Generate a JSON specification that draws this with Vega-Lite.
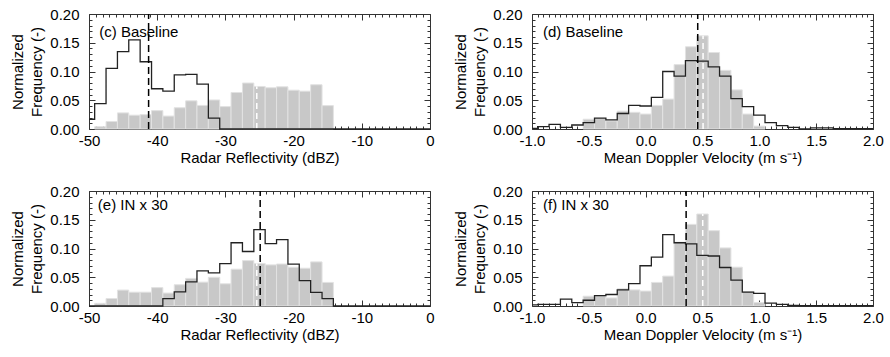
{
  "$schema": "https://vega.github.io/schema/vega-lite/v6.json",
  "padding": {"left": 10, "top": 6, "right": 0, "bottom": 0},
  "background": "white",
  "config": {
    "view": {"stroke": "#333333", "strokeWidth": 1},
    "axis": {"grid": false, "domain": false, "labelFont": "Liberation Sans", "titleFont": "Liberation Sans", "labelFontSize": 15, "titleFontSize": 15, "titleFontWeight": "normal", "labelColor": "#000000", "titleColor": "#000000", "tickColor": "#333333", "labelFlush": false, "labelOverlap": false},
    "text": {"font": "Liberation Sans", "fontSize": 15}
  },
  "datasets": {
    "gC": [
      {"x0": -49.17, "x1": -47.5, "f": 0.004}, {"x0": -47.5, "x1": -45.83, "f": 0.013}, {"x0": -45.83, "x1": -44.17, "f": 0.028},
      {"x0": -44.17, "x1": -42.5, "f": 0.024}, {"x0": -42.5, "x1": -40.83, "f": 0.025}, {"x0": -40.83, "x1": -39.17, "f": 0.032},
      {"x0": -39.17, "x1": -37.5, "f": 0.0225}, {"x0": -37.5, "x1": -35.83, "f": 0.037}, {"x0": -35.83, "x1": -34.17, "f": 0.049},
      {"x0": -34.17, "x1": -32.5, "f": 0.041}, {"x0": -32.5, "x1": -30.83, "f": 0.0505}, {"x0": -30.83, "x1": -29.17, "f": 0.039},
      {"x0": -29.17, "x1": -27.5, "f": 0.0635}, {"x0": -27.5, "x1": -25.83, "f": 0.080}, {"x0": -25.83, "x1": -24.17, "f": 0.074},
      {"x0": -24.17, "x1": -22.5, "f": 0.0717}, {"x0": -22.5, "x1": -20.83, "f": 0.0734}, {"x0": -20.83, "x1": -19.17, "f": 0.0675},
      {"x0": -19.17, "x1": -17.5, "f": 0.0658}, {"x0": -17.5, "x1": -15.83, "f": 0.077}, {"x0": -15.83, "x1": -14.17, "f": 0.0407}
    ],
    "lC": [
      {"x": -50, "f": 0.017}, {"x": -49.17, "f": 0.044}, {"x": -47.5, "f": 0.1056}, {"x": -45.83, "f": 0.1347},
      {"x": -44.17, "f": 0.155}, {"x": -42.5, "f": 0.117}, {"x": -40.83, "f": 0.070}, {"x": -39.17, "f": 0.066},
      {"x": -37.5, "f": 0.094}, {"x": -35.83, "f": 0.095}, {"x": -34.17, "f": 0.078}, {"x": -32.5, "f": 0.019},
      {"x": -30.83, "f": 0}, {"x": 0, "f": 0}
    ],
    "gE": [
      {"x0": -49.17, "x1": -47.5, "f": 0.0046}, {"x0": -47.5, "x1": -45.83, "f": 0.013}, {"x0": -45.83, "x1": -44.17, "f": 0.0277},
      {"x0": -44.17, "x1": -42.5, "f": 0.024}, {"x0": -42.5, "x1": -40.83, "f": 0.024}, {"x0": -40.83, "x1": -39.17, "f": 0.032},
      {"x0": -39.17, "x1": -37.5, "f": 0.0225}, {"x0": -37.5, "x1": -35.83, "f": 0.037}, {"x0": -35.83, "x1": -34.17, "f": 0.048},
      {"x0": -34.17, "x1": -32.5, "f": 0.0415}, {"x0": -32.5, "x1": -30.83, "f": 0.050}, {"x0": -30.83, "x1": -29.17, "f": 0.0386},
      {"x0": -29.17, "x1": -27.5, "f": 0.064}, {"x0": -27.5, "x1": -25.83, "f": 0.079}, {"x0": -25.83, "x1": -24.17, "f": 0.074},
      {"x0": -24.17, "x1": -22.5, "f": 0.0715}, {"x0": -22.5, "x1": -20.83, "f": 0.073}, {"x0": -20.83, "x1": -19.17, "f": 0.0674},
      {"x0": -19.17, "x1": -17.5, "f": 0.0657}, {"x0": -17.5, "x1": -15.83, "f": 0.0767}, {"x0": -15.83, "x1": -14.17, "f": 0.041}
    ],
    "lE": [
      {"x": -50, "f": 0}, {"x": -39.17, "f": 0.0127}, {"x": -37.5, "f": 0.0246}, {"x": -35.83, "f": 0.042},
      {"x": -34.17, "f": 0.061}, {"x": -32.5, "f": 0.0575}, {"x": -30.83, "f": 0.0737}, {"x": -29.17, "f": 0.110},
      {"x": -27.5, "f": 0.0948}, {"x": -25.83, "f": 0.133}, {"x": -24.17, "f": 0.1085}, {"x": -22.5, "f": 0.1156},
      {"x": -20.83, "f": 0.073}, {"x": -19.17, "f": 0.044}, {"x": -17.5, "f": 0.0236}, {"x": -15.83, "f": 0.0127},
      {"x": -14.17, "f": 0}, {"x": 0, "f": 0}
    ],
    "gD": [
      {"x0": -0.55, "x1": -0.45, "f": 0.017}, {"x0": -0.45, "x1": -0.35, "f": 0.018}, {"x0": -0.35, "x1": -0.25, "f": 0.014},
      {"x0": -0.25, "x1": -0.15, "f": 0.031}, {"x0": -0.15, "x1": -0.05, "f": 0.029}, {"x0": -0.05, "x1": 0.05, "f": 0.026},
      {"x0": 0.05, "x1": 0.15, "f": 0.041}, {"x0": 0.15, "x1": 0.25, "f": 0.052}, {"x0": 0.25, "x1": 0.35, "f": 0.112},
      {"x0": 0.35, "x1": 0.45, "f": 0.143}, {"x0": 0.45, "x1": 0.55, "f": 0.162}, {"x0": 0.55, "x1": 0.65, "f": 0.133},
      {"x0": 0.65, "x1": 0.75, "f": 0.102}, {"x0": 0.75, "x1": 0.85, "f": 0.068}, {"x0": 0.85, "x1": 0.95, "f": 0.026},
      {"x0": 0.95, "x1": 1.05, "f": 0.005}
    ],
    "lD": [
      {"x": -1.0, "f": 0.001}, {"x": -0.95, "f": 0.004}, {"x": -0.85, "f": 0.008}, {"x": -0.75, "f": 0.003},
      {"x": -0.65, "f": 0.007}, {"x": -0.55, "f": 0.011}, {"x": -0.45, "f": 0.019}, {"x": -0.35, "f": 0.016},
      {"x": -0.25, "f": 0.027}, {"x": -0.15, "f": 0.041}, {"x": -0.05, "f": 0.040}, {"x": 0.05, "f": 0.055},
      {"x": 0.15, "f": 0.100}, {"x": 0.25, "f": 0.092}, {"x": 0.35, "f": 0.119}, {"x": 0.45, "f": 0.118},
      {"x": 0.55, "f": 0.108}, {"x": 0.65, "f": 0.092}, {"x": 0.75, "f": 0.053}, {"x": 0.85, "f": 0.039},
      {"x": 0.95, "f": 0.024}, {"x": 1.05, "f": 0.011}, {"x": 1.15, "f": 0.006}, {"x": 1.25, "f": 0.003},
      {"x": 1.35, "f": 0.0}, {"x": 1.45, "f": 0.002}, {"x": 1.55, "f": 0.002}, {"x": 1.65, "f": 0.0005},
      {"x": 1.75, "f": 0.0005}, {"x": 1.85, "f": 0.0005}, {"x": 1.95, "f": 0.0005}, {"x": 2.0, "f": 0.0005}
    ],
    "gF": [
      {"x0": -0.55, "x1": -0.45, "f": 0.017}, {"x0": -0.45, "x1": -0.35, "f": 0.018}, {"x0": -0.35, "x1": -0.25, "f": 0.014},
      {"x0": -0.25, "x1": -0.15, "f": 0.030}, {"x0": -0.15, "x1": -0.05, "f": 0.028}, {"x0": -0.05, "x1": 0.05, "f": 0.026},
      {"x0": 0.05, "x1": 0.15, "f": 0.041}, {"x0": 0.15, "x1": 0.25, "f": 0.052}, {"x0": 0.25, "x1": 0.35, "f": 0.111},
      {"x0": 0.35, "x1": 0.45, "f": 0.142}, {"x0": 0.45, "x1": 0.55, "f": 0.160}, {"x0": 0.55, "x1": 0.65, "f": 0.131},
      {"x0": 0.65, "x1": 0.75, "f": 0.101}, {"x0": 0.75, "x1": 0.85, "f": 0.0675}, {"x0": 0.85, "x1": 0.95, "f": 0.025},
      {"x0": 0.95, "x1": 1.05, "f": 0.006}
    ],
    "lF": [
      {"x": -1.0, "f": 0.002}, {"x": -0.95, "f": 0.003}, {"x": -0.85, "f": 0.003}, {"x": -0.75, "f": 0.012},
      {"x": -0.65, "f": 0.006}, {"x": -0.55, "f": 0.010}, {"x": -0.45, "f": 0.018}, {"x": -0.35, "f": 0.020},
      {"x": -0.25, "f": 0.028}, {"x": -0.15, "f": 0.039}, {"x": -0.05, "f": 0.070}, {"x": 0.05, "f": 0.085},
      {"x": 0.15, "f": 0.124}, {"x": 0.25, "f": 0.110}, {"x": 0.35, "f": 0.108}, {"x": 0.45, "f": 0.088},
      {"x": 0.55, "f": 0.087}, {"x": 0.65, "f": 0.067}, {"x": 0.75, "f": 0.045}, {"x": 0.85, "f": 0.024},
      {"x": 0.95, "f": 0.022}, {"x": 1.05, "f": 0.005}, {"x": 1.15, "f": 0.003}, {"x": 1.25, "f": 0.001},
      {"x": 1.35, "f": 0.0005}, {"x": 2.0, "f": 0.0005}
    ],
    "means": [
      {"p": "c", "k": "w", "x": -25.4, "y0": 0, "y1": 0.074}, {"p": "c", "k": "b", "x": -41.26, "y0": 0, "y1": 0.2},
      {"p": "d", "k": "w", "x": 0.505, "y0": 0, "y1": 0.162}, {"p": "d", "k": "b", "x": 0.458, "y0": 0, "y1": 0.2},
      {"p": "e", "k": "w", "x": -25.4, "y0": 0, "y1": 0.074}, {"p": "e", "k": "b", "x": -24.9, "y0": 0, "y1": 0.2},
      {"p": "f", "k": "w", "x": 0.502, "y0": 0, "y1": 0.160}, {"p": "f", "k": "b", "x": 0.356, "y0": 0, "y1": 0.2}
    ],
    "labels": [
      {"p": "c", "x": -48.5, "y": 0.168, "t": "(c) Baseline"},
      {"p": "d", "x": -0.903, "y": 0.168, "t": "(d) Baseline"},
      {"p": "e", "x": -48.7, "y": 0.175, "t": "(e) IN x 30"},
      {"p": "f", "x": -0.903, "y": 0.175, "t": "(f) IN x 30"}
    ]
  },
  "columns": 2,
  "spacing": {"row": 62, "column": 102},
  "bounds": "flush",
  "concat": [
    {
      "width": 341, "height": 115,
      "resolve": {"axis": {"x": "independent", "y": "independent"}},
      "layer": [
        {"data": {"name": "gC"}, "mark": {"type": "rect", "fill": "#c8c8c8", "stroke": "#e2e2e2", "strokeWidth": 1},
         "encoding": {
           "x": {"field": "x0", "type": "quantitative", "scale": {"domain": [-50, 0], "nice": false, "zero": false},
                 "axis": {"orient": "bottom", "values": [-50, -40, -30, -20, -10, 0], "tickSize": -6, "labelPadding": 10, "labelExpr": "datum.value < 0 ? '-' + format(-datum.value, 'd') : format(datum.value, 'd')", "title": "Radar Reflectivity (dBZ)", "titlePadding": 2}},
           "x2": {"field": "x1"},
           "y": {"field": "f", "type": "quantitative", "scale": {"domain": [0, 0.2], "nice": false, "zero": false},
                 "axis": {"orient": "left", "values": [0, 0.05, 0.1, 0.15, 0.2], "format": ".2f", "tickSize": -6, "labelPadding": 16, "title": ["Normalized", "Frequency (-)"], "titlePadding": 5, "titleLineHeight": 19}},
           "y2": {"datum": 0}}},
        {"data": {"name": "means"}, "transform": [{"filter": "datum.p == 'c' && datum.k == 'w'"}],
         "mark": {"type": "rule", "stroke": "#ffffff", "strokeWidth": 1.5, "strokeDash": [6, 4]},
         "encoding": {
           "x": {"field": "x", "type": "quantitative", "scale": {"domain": [-50, 0], "nice": false, "zero": false},
                 "axis": {"orient": "top", "values": [-49,-48,-47,-46,-45,-44,-43,-42,-41,-39,-38,-37,-36,-35,-34,-33,-32,-31,-29,-28,-27,-26,-25,-24,-23,-22,-21,-19,-18,-17,-16,-15,-14,-13,-12,-11,-9,-8,-7,-6,-5,-4,-3,-2,-1], "tickSize": -3, "labels": false, "title": null}},
           "y": {"field": "y0", "type": "quantitative", "scale": {"domain": [0, 0.2], "nice": false, "zero": false},
                 "axis": {"orient": "right", "values": [0.01,0.02,0.03,0.04,0.06,0.07,0.08,0.09,0.11,0.12,0.13,0.14,0.16,0.17,0.18,0.19], "tickSize": -3, "labels": false, "title": null}},
           "y2": {"field": "y1"}}},
        {"data": {"name": "lC"}, "mark": {"type": "line", "interpolate": "step-after", "stroke": "#222222", "strokeWidth": 1.3},
         "encoding": {
           "x": {"field": "x", "type": "quantitative", "scale": {"domain": [-50, 0], "nice": false, "zero": false},
                 "axis": {"orient": "top", "values": [-50, -40, -30, -20, -10, 0], "tickSize": -6, "labels": false, "title": null}},
           "y": {"field": "f", "type": "quantitative", "scale": {"domain": [0, 0.2], "nice": false, "zero": false},
                 "axis": {"orient": "right", "values": [0, 0.05, 0.1, 0.15, 0.2], "tickSize": -6, "labels": false, "title": null}}}},
        {"data": {"name": "means"}, "transform": [{"filter": "datum.p == 'c' && datum.k == 'b'"}],
         "mark": {"type": "rule", "stroke": "#000000", "strokeWidth": 1.5, "strokeDash": [7, 4]},
         "encoding": {
           "x": {"field": "x", "type": "quantitative", "scale": {"domain": [-50, 0], "nice": false, "zero": false},
                 "axis": {"orient": "bottom", "values": [-49,-48,-47,-46,-45,-44,-43,-42,-41,-39,-38,-37,-36,-35,-34,-33,-32,-31,-29,-28,-27,-26,-25,-24,-23,-22,-21,-19,-18,-17,-16,-15,-14,-13,-12,-11,-9,-8,-7,-6,-5,-4,-3,-2,-1], "tickSize": -3, "labels": false, "title": null}},
           "y": {"field": "y0", "type": "quantitative", "scale": {"domain": [0, 0.2], "nice": false, "zero": false},
                 "axis": {"orient": "left", "values": [0.01,0.02,0.03,0.04,0.06,0.07,0.08,0.09,0.11,0.12,0.13,0.14,0.16,0.17,0.18,0.19], "tickSize": -3, "labels": false, "title": null}},
           "y2": {"field": "y1"}}},
        {"data": {"name": "labels"}, "transform": [{"filter": "datum.p == 'c'"}],
         "mark": {"type": "text", "align": "left", "baseline": "middle", "fontSize": 15, "color": "#000000"},
         "encoding": {
           "x": {"field": "x", "type": "quantitative", "scale": {"domain": [-50, 0], "nice": false, "zero": false}, "axis": null},
           "y": {"field": "y", "type": "quantitative", "scale": {"domain": [0, 0.2], "nice": false, "zero": false}, "axis": null},
           "text": {"field": "t"}}}
      ]
    },
    {
      "width": 341, "height": 115,
      "resolve": {"axis": {"x": "independent", "y": "independent"}},
      "layer": [
        {"data": {"name": "gD"}, "mark": {"type": "rect", "fill": "#c8c8c8", "stroke": "#e2e2e2", "strokeWidth": 1},
         "encoding": {
           "x": {"field": "x0", "type": "quantitative", "scale": {"domain": [-1, 2], "nice": false, "zero": false},
                 "axis": {"orient": "bottom", "values": [-1, -0.5, 0, 0.5, 1, 1.5, 2], "tickSize": -6, "labelPadding": 10, "labelExpr": "datum.value < 0 ? '-' + format(-datum.value, '.1f') : format(datum.value, '.1f')", "title": "Mean Doppler Velocity (m s⁻¹)", "titlePadding": 2}},
           "x2": {"field": "x1"},
           "y": {"field": "f", "type": "quantitative", "scale": {"domain": [0, 0.2], "nice": false, "zero": false},
                 "axis": {"orient": "left", "values": [0, 0.05, 0.1, 0.15, 0.2], "format": ".2f", "tickSize": -6, "labelPadding": 16, "title": ["Normalized", "Frequency (-)"], "titlePadding": 5, "titleLineHeight": 19}},
           "y2": {"datum": 0}}},
        {"data": {"name": "means"}, "transform": [{"filter": "datum.p == 'd' && datum.k == 'w'"}],
         "mark": {"type": "rule", "stroke": "#ffffff", "strokeWidth": 1.5, "strokeDash": [6, 4]},
         "encoding": {
           "x": {"field": "x", "type": "quantitative", "scale": {"domain": [-1, 2], "nice": false, "zero": false},
                 "axis": {"orient": "top", "values": [-0.95,-0.9,-0.85,-0.8,-0.75,-0.7,-0.65,-0.6,-0.55,-0.45,-0.4,-0.35,-0.3,-0.25,-0.2,-0.15,-0.1,-0.05,0.05,0.1,0.15,0.2,0.25,0.3,0.35,0.4,0.45,0.55,0.6,0.65,0.7,0.75,0.8,0.85,0.9,0.95,1.05,1.1,1.15,1.2,1.25,1.3,1.35,1.4,1.45,1.55,1.6,1.65,1.7,1.75,1.8,1.85,1.9,1.95], "tickSize": -3, "labels": false, "title": null}},
           "y": {"field": "y0", "type": "quantitative", "scale": {"domain": [0, 0.2], "nice": false, "zero": false},
                 "axis": {"orient": "right", "values": [0.01,0.02,0.03,0.04,0.06,0.07,0.08,0.09,0.11,0.12,0.13,0.14,0.16,0.17,0.18,0.19], "tickSize": -3, "labels": false, "title": null}},
           "y2": {"field": "y1"}}},
        {"data": {"name": "lD"}, "mark": {"type": "line", "interpolate": "step-after", "stroke": "#222222", "strokeWidth": 1.3},
         "encoding": {
           "x": {"field": "x", "type": "quantitative", "scale": {"domain": [-1, 2], "nice": false, "zero": false},
                 "axis": {"orient": "top", "values": [-1, -0.5, 0, 0.5, 1, 1.5, 2], "tickSize": -6, "labels": false, "title": null}},
           "y": {"field": "f", "type": "quantitative", "scale": {"domain": [0, 0.2], "nice": false, "zero": false},
                 "axis": {"orient": "right", "values": [0, 0.05, 0.1, 0.15, 0.2], "tickSize": -6, "labels": false, "title": null}}}},
        {"data": {"name": "means"}, "transform": [{"filter": "datum.p == 'd' && datum.k == 'b'"}],
         "mark": {"type": "rule", "stroke": "#000000", "strokeWidth": 1.5, "strokeDash": [7, 4]},
         "encoding": {
           "x": {"field": "x", "type": "quantitative", "scale": {"domain": [-1, 2], "nice": false, "zero": false},
                 "axis": {"orient": "bottom", "values": [-0.95,-0.9,-0.85,-0.8,-0.75,-0.7,-0.65,-0.6,-0.55,-0.45,-0.4,-0.35,-0.3,-0.25,-0.2,-0.15,-0.1,-0.05,0.05,0.1,0.15,0.2,0.25,0.3,0.35,0.4,0.45,0.55,0.6,0.65,0.7,0.75,0.8,0.85,0.9,0.95,1.05,1.1,1.15,1.2,1.25,1.3,1.35,1.4,1.45,1.55,1.6,1.65,1.7,1.75,1.8,1.85,1.9,1.95], "tickSize": -3, "labels": false, "title": null}},
           "y": {"field": "y0", "type": "quantitative", "scale": {"domain": [0, 0.2], "nice": false, "zero": false},
                 "axis": {"orient": "left", "values": [0.01,0.02,0.03,0.04,0.06,0.07,0.08,0.09,0.11,0.12,0.13,0.14,0.16,0.17,0.18,0.19], "tickSize": -3, "labels": false, "title": null}},
           "y2": {"field": "y1"}}},
        {"data": {"name": "labels"}, "transform": [{"filter": "datum.p == 'd'"}],
         "mark": {"type": "text", "align": "left", "baseline": "middle", "fontSize": 15, "color": "#000000"},
         "encoding": {
           "x": {"field": "x", "type": "quantitative", "scale": {"domain": [-1, 2], "nice": false, "zero": false}, "axis": null},
           "y": {"field": "y", "type": "quantitative", "scale": {"domain": [0, 0.2], "nice": false, "zero": false}, "axis": null},
           "text": {"field": "t"}}}
      ]
    },
    {
      "width": 341, "height": 115,
      "resolve": {"axis": {"x": "independent", "y": "independent"}},
      "layer": [
        {"data": {"name": "gE"}, "mark": {"type": "rect", "fill": "#c8c8c8", "stroke": "#e2e2e2", "strokeWidth": 1},
         "encoding": {
           "x": {"field": "x0", "type": "quantitative", "scale": {"domain": [-50, 0], "nice": false, "zero": false},
                 "axis": {"orient": "bottom", "values": [-50, -40, -30, -20, -10, 0], "tickSize": -6, "labelPadding": 10, "labelExpr": "datum.value < 0 ? '-' + format(-datum.value, 'd') : format(datum.value, 'd')", "title": "Radar Reflectivity (dBZ)", "titlePadding": 2}},
           "x2": {"field": "x1"},
           "y": {"field": "f", "type": "quantitative", "scale": {"domain": [0, 0.2], "nice": false, "zero": false},
                 "axis": {"orient": "left", "values": [0, 0.05, 0.1, 0.15, 0.2], "format": ".2f", "tickSize": -6, "labelPadding": 16, "title": ["Normalized", "Frequency (-)"], "titlePadding": 5, "titleLineHeight": 19}},
           "y2": {"datum": 0}}},
        {"data": {"name": "means"}, "transform": [{"filter": "datum.p == 'e' && datum.k == 'w'"}],
         "mark": {"type": "rule", "stroke": "#ffffff", "strokeWidth": 1.5, "strokeDash": [6, 4]},
         "encoding": {
           "x": {"field": "x", "type": "quantitative", "scale": {"domain": [-50, 0], "nice": false, "zero": false},
                 "axis": {"orient": "top", "values": [-49,-48,-47,-46,-45,-44,-43,-42,-41,-39,-38,-37,-36,-35,-34,-33,-32,-31,-29,-28,-27,-26,-25,-24,-23,-22,-21,-19,-18,-17,-16,-15,-14,-13,-12,-11,-9,-8,-7,-6,-5,-4,-3,-2,-1], "tickSize": -3, "labels": false, "title": null}},
           "y": {"field": "y0", "type": "quantitative", "scale": {"domain": [0, 0.2], "nice": false, "zero": false},
                 "axis": {"orient": "right", "values": [0.01,0.02,0.03,0.04,0.06,0.07,0.08,0.09,0.11,0.12,0.13,0.14,0.16,0.17,0.18,0.19], "tickSize": -3, "labels": false, "title": null}},
           "y2": {"field": "y1"}}},
        {"data": {"name": "lE"}, "mark": {"type": "line", "interpolate": "step-after", "stroke": "#222222", "strokeWidth": 1.3},
         "encoding": {
           "x": {"field": "x", "type": "quantitative", "scale": {"domain": [-50, 0], "nice": false, "zero": false},
                 "axis": {"orient": "top", "values": [-50, -40, -30, -20, -10, 0], "tickSize": -6, "labels": false, "title": null}},
           "y": {"field": "f", "type": "quantitative", "scale": {"domain": [0, 0.2], "nice": false, "zero": false},
                 "axis": {"orient": "right", "values": [0, 0.05, 0.1, 0.15, 0.2], "tickSize": -6, "labels": false, "title": null}}}},
        {"data": {"name": "means"}, "transform": [{"filter": "datum.p == 'e' && datum.k == 'b'"}],
         "mark": {"type": "rule", "stroke": "#000000", "strokeWidth": 1.5, "strokeDash": [7, 4]},
         "encoding": {
           "x": {"field": "x", "type": "quantitative", "scale": {"domain": [-50, 0], "nice": false, "zero": false},
                 "axis": {"orient": "bottom", "values": [-49,-48,-47,-46,-45,-44,-43,-42,-41,-39,-38,-37,-36,-35,-34,-33,-32,-31,-29,-28,-27,-26,-25,-24,-23,-22,-21,-19,-18,-17,-16,-15,-14,-13,-12,-11,-9,-8,-7,-6,-5,-4,-3,-2,-1], "tickSize": -3, "labels": false, "title": null}},
           "y": {"field": "y0", "type": "quantitative", "scale": {"domain": [0, 0.2], "nice": false, "zero": false},
                 "axis": {"orient": "left", "values": [0.01,0.02,0.03,0.04,0.06,0.07,0.08,0.09,0.11,0.12,0.13,0.14,0.16,0.17,0.18,0.19], "tickSize": -3, "labels": false, "title": null}},
           "y2": {"field": "y1"}}},
        {"data": {"name": "labels"}, "transform": [{"filter": "datum.p == 'e'"}],
         "mark": {"type": "text", "align": "left", "baseline": "middle", "fontSize": 15, "color": "#000000"},
         "encoding": {
           "x": {"field": "x", "type": "quantitative", "scale": {"domain": [-50, 0], "nice": false, "zero": false}, "axis": null},
           "y": {"field": "y", "type": "quantitative", "scale": {"domain": [0, 0.2], "nice": false, "zero": false}, "axis": null},
           "text": {"field": "t"}}}
      ]
    },
    {
      "width": 341, "height": 115,
      "resolve": {"axis": {"x": "independent", "y": "independent"}},
      "layer": [
        {"data": {"name": "gF"}, "mark": {"type": "rect", "fill": "#c8c8c8", "stroke": "#e2e2e2", "strokeWidth": 1},
         "encoding": {
           "x": {"field": "x0", "type": "quantitative", "scale": {"domain": [-1, 2], "nice": false, "zero": false},
                 "axis": {"orient": "bottom", "values": [-1, -0.5, 0, 0.5, 1, 1.5, 2], "tickSize": -6, "labelPadding": 10, "labelExpr": "datum.value < 0 ? '-' + format(-datum.value, '.1f') : format(datum.value, '.1f')", "title": "Mean Doppler Velocity (m s⁻¹)", "titlePadding": 2}},
           "x2": {"field": "x1"},
           "y": {"field": "f", "type": "quantitative", "scale": {"domain": [0, 0.2], "nice": false, "zero": false},
                 "axis": {"orient": "left", "values": [0, 0.05, 0.1, 0.15, 0.2], "format": ".2f", "tickSize": -6, "labelPadding": 16, "title": ["Normalized", "Frequency (-)"], "titlePadding": 5, "titleLineHeight": 19}},
           "y2": {"datum": 0}}},
        {"data": {"name": "means"}, "transform": [{"filter": "datum.p == 'f' && datum.k == 'w'"}],
         "mark": {"type": "rule", "stroke": "#ffffff", "strokeWidth": 1.5, "strokeDash": [6, 4]},
         "encoding": {
           "x": {"field": "x", "type": "quantitative", "scale": {"domain": [-1, 2], "nice": false, "zero": false},
                 "axis": {"orient": "top", "values": [-0.95,-0.9,-0.85,-0.8,-0.75,-0.7,-0.65,-0.6,-0.55,-0.45,-0.4,-0.35,-0.3,-0.25,-0.2,-0.15,-0.1,-0.05,0.05,0.1,0.15,0.2,0.25,0.3,0.35,0.4,0.45,0.55,0.6,0.65,0.7,0.75,0.8,0.85,0.9,0.95,1.05,1.1,1.15,1.2,1.25,1.3,1.35,1.4,1.45,1.55,1.6,1.65,1.7,1.75,1.8,1.85,1.9,1.95], "tickSize": -3, "labels": false, "title": null}},
           "y": {"field": "y0", "type": "quantitative", "scale": {"domain": [0, 0.2], "nice": false, "zero": false},
                 "axis": {"orient": "right", "values": [0.01,0.02,0.03,0.04,0.06,0.07,0.08,0.09,0.11,0.12,0.13,0.14,0.16,0.17,0.18,0.19], "tickSize": -3, "labels": false, "title": null}},
           "y2": {"field": "y1"}}},
        {"data": {"name": "lF"}, "mark": {"type": "line", "interpolate": "step-after", "stroke": "#222222", "strokeWidth": 1.3},
         "encoding": {
           "x": {"field": "x", "type": "quantitative", "scale": {"domain": [-1, 2], "nice": false, "zero": false},
                 "axis": {"orient": "top", "values": [-1, -0.5, 0, 0.5, 1, 1.5, 2], "tickSize": -6, "labels": false, "title": null}},
           "y": {"field": "f", "type": "quantitative", "scale": {"domain": [0, 0.2], "nice": false, "zero": false},
                 "axis": {"orient": "right", "values": [0, 0.05, 0.1, 0.15, 0.2], "tickSize": -6, "labels": false, "title": null}}}},
        {"data": {"name": "means"}, "transform": [{"filter": "datum.p == 'f' && datum.k == 'b'"}],
         "mark": {"type": "rule", "stroke": "#000000", "strokeWidth": 1.5, "strokeDash": [7, 4]},
         "encoding": {
           "x": {"field": "x", "type": "quantitative", "scale": {"domain": [-1, 2], "nice": false, "zero": false},
                 "axis": {"orient": "bottom", "values": [-0.95,-0.9,-0.85,-0.8,-0.75,-0.7,-0.65,-0.6,-0.55,-0.45,-0.4,-0.35,-0.3,-0.25,-0.2,-0.15,-0.1,-0.05,0.05,0.1,0.15,0.2,0.25,0.3,0.35,0.4,0.45,0.55,0.6,0.65,0.7,0.75,0.8,0.85,0.9,0.95,1.05,1.1,1.15,1.2,1.25,1.3,1.35,1.4,1.45,1.55,1.6,1.65,1.7,1.75,1.8,1.85,1.9,1.95], "tickSize": -3, "labels": false, "title": null}},
           "y": {"field": "y0", "type": "quantitative", "scale": {"domain": [0, 0.2], "nice": false, "zero": false},
                 "axis": {"orient": "left", "values": [0.01,0.02,0.03,0.04,0.06,0.07,0.08,0.09,0.11,0.12,0.13,0.14,0.16,0.17,0.18,0.19], "tickSize": -3, "labels": false, "title": null}},
           "y2": {"field": "y1"}}},
        {"data": {"name": "labels"}, "transform": [{"filter": "datum.p == 'f'"}],
         "mark": {"type": "text", "align": "left", "baseline": "middle", "fontSize": 15, "color": "#000000"},
         "encoding": {
           "x": {"field": "x", "type": "quantitative", "scale": {"domain": [-1, 2], "nice": false, "zero": false}, "axis": null},
           "y": {"field": "y", "type": "quantitative", "scale": {"domain": [0, 0.2], "nice": false, "zero": false}, "axis": null},
           "text": {"field": "t"}}}
      ]
    }
  ]
}
